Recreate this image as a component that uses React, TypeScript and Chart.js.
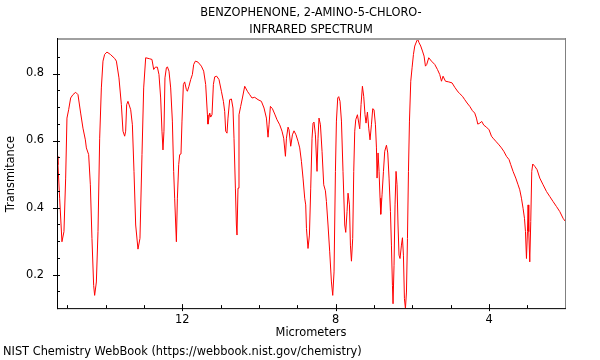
import React, { useEffect, useRef } from 'react';
import { Chart, registerables } from 'chart.js';

Chart.register(...registerables);

const FONT = '"DejaVu Sans", "Noto Sans", sans-serif';
const FS = 11.4;

const titleLines = ['BENZOPHENONE, 2-AMINO-5-CHLORO-', 'INFRARED SPECTRUM'];
const xAxisTitle = 'Micrometers';
const yAxisTitle = 'Transmitance';
const footerText = 'NIST Chemistry WebBook (https://webbook.nist.gov/chemistry)';

const xRange = [2.02, 15.27];
const yRange = [0.1, 0.9];
const xTicks = [12, 8, 4];
const xMinorTicks = [15, 14, 13, 11, 10, 9, 7, 6, 5, 3];
const yTicks = [0.2, 0.4, 0.6, 0.8];
const yMinorTicks = [0.15, 0.25, 0.3, 0.35, 0.45, 0.5, 0.55, 0.65, 0.7, 0.75, 0.85];

// wavelength in micrometers
const wavelength = [
  15.27, 15.245, 15.201, 15.141, 15.089, 15.044, 15.010, 14.966, 14.914, 14.854,
  14.783, 14.723, 14.653, 14.593, 14.530, 14.504, 14.444, 14.400, 14.358, 14.314,
  14.288, 14.243, 14.201, 14.157, 14.113, 14.071, 14.027, 13.967, 13.878, 13.766,
  13.721, 13.654, 13.591, 13.549, 13.505, 13.479, 13.453, 13.419, 13.348, 13.304,
  13.262, 13.218, 13.158, 13.106, 13.053, 13.009, 12.957, 12.853, 12.793, 12.748,
  12.704, 12.652, 12.610, 12.566, 12.532, 12.506, 12.480, 12.454, 12.417, 12.391,
  12.349, 12.305, 12.261, 12.227, 12.201, 12.156, 12.130, 12.096, 12.070, 12.036,
  12.010, 11.974, 11.940, 11.895, 11.869, 11.828, 11.783, 11.739, 11.705, 11.660,
  11.593, 11.504, 11.444, 11.392, 11.347, 11.332, 11.287, 11.261, 11.227, 11.191,
  11.157, 11.105, 11.045, 10.982, 10.930, 10.896, 10.870, 10.836, 10.810, 10.766,
  10.721, 10.680, 10.653, 10.617, 10.591, 10.575, 10.549, 10.523, 10.479, 10.434,
  10.374, 10.304, 10.244, 10.184, 10.113, 10.027, 9.939, 9.870, 9.808, 9.766,
  9.740, 9.704, 9.651, 9.591, 9.531, 9.461, 9.401, 9.357, 9.312, 9.286,
  9.244, 9.218, 9.174, 9.130, 9.088, 9.036, 8.984, 8.939, 8.895, 8.853,
  8.809, 8.783, 8.764, 8.723, 8.686, 8.652, 8.618, 8.592, 8.566, 8.530,
  8.488, 8.462, 8.436, 8.399, 8.357, 8.313, 8.269, 8.243, 8.201, 8.157,
  8.112, 8.078, 8.044, 8.008, 7.982, 7.948, 7.922, 7.888, 7.851, 7.810,
  7.765, 7.739, 7.705, 7.679, 7.642, 7.617, 7.590, 7.557, 7.530, 7.504,
  7.478, 7.434, 7.374, 7.340, 7.304, 7.270, 7.236, 7.210, 7.173, 7.139,
  7.105, 7.069, 7.035, 7.001, 6.964, 6.938, 6.922, 6.896, 6.870, 6.844,
  6.826, 6.792, 6.755, 6.722, 6.677, 6.643, 6.609, 6.573, 6.547, 6.521,
  6.505, 6.479, 6.453, 6.427, 6.401, 6.375, 6.349, 6.323, 6.286, 6.260,
  6.234, 6.208, 6.182, 6.155, 6.129, 6.103, 6.077, 6.043, 6.009, 5.973,
  5.939, 5.887, 5.861, 5.827, 5.783, 5.738, 5.696, 5.660, 5.626, 5.574,
  5.503, 5.417, 5.347, 5.287, 5.242, 5.201, 5.138, 5.052, 4.966, 4.896,
  4.809, 4.765, 4.694, 4.635, 4.574, 4.504, 4.434, 4.374, 4.330, 4.295,
  4.243, 4.191, 4.139, 4.069, 4.000, 3.938, 3.896, 3.826, 3.740, 3.677,
  3.617, 3.547, 3.479, 3.435, 3.375, 3.304, 3.244, 3.200, 3.156, 3.114,
  3.077, 3.051, 3.025, 2.999, 2.983, 2.965, 2.939, 2.913, 2.887, 2.861,
  2.808, 2.748, 2.678, 2.591, 2.503, 2.417, 2.331, 2.242, 2.156, 2.070,
  2.02,
];

const transmittance = [
  0.553, 0.528, 0.428, 0.298, 0.328, 0.488, 0.667, 0.692, 0.727, 0.737,
  0.744, 0.737, 0.682, 0.637, 0.602, 0.578, 0.558, 0.468, 0.308, 0.168,
  0.138, 0.178, 0.328, 0.607, 0.757, 0.837, 0.857, 0.864, 0.857, 0.845,
  0.837, 0.787, 0.707, 0.628, 0.613, 0.628, 0.707, 0.717, 0.692, 0.647,
  0.508, 0.348, 0.276, 0.308, 0.558, 0.757, 0.847, 0.844, 0.842, 0.812,
  0.819, 0.819, 0.797, 0.727, 0.628, 0.572, 0.628, 0.787, 0.817, 0.820,
  0.807, 0.757, 0.658, 0.508, 0.428, 0.298, 0.428, 0.528, 0.558, 0.560,
  0.658, 0.767, 0.775, 0.752, 0.747, 0.762, 0.782, 0.797, 0.827, 0.837,
  0.834, 0.822, 0.807, 0.767, 0.677, 0.649, 0.682, 0.670, 0.677, 0.767,
  0.790, 0.792, 0.782, 0.747, 0.717, 0.687, 0.628, 0.622, 0.667, 0.722,
  0.724, 0.697, 0.607, 0.458, 0.348, 0.318, 0.458, 0.677, 0.702, 0.727,
  0.762, 0.747, 0.737, 0.727, 0.729, 0.722, 0.717, 0.697, 0.667, 0.610,
  0.647, 0.702, 0.695, 0.679, 0.662, 0.647, 0.628, 0.607, 0.553, 0.607,
  0.640, 0.632, 0.583, 0.617, 0.629, 0.617, 0.598, 0.578, 0.538, 0.488,
  0.428, 0.408, 0.338, 0.278, 0.318, 0.458, 0.607, 0.652, 0.655, 0.617,
  0.508, 0.607, 0.667, 0.647, 0.568, 0.468, 0.450, 0.418, 0.348, 0.268,
  0.178, 0.138, 0.208, 0.508, 0.658, 0.727, 0.731, 0.717, 0.658, 0.508,
  0.348, 0.326, 0.388, 0.443, 0.408, 0.288, 0.240, 0.308, 0.508, 0.628,
  0.662, 0.677, 0.635, 0.707, 0.762, 0.732, 0.677, 0.652, 0.685, 0.637,
  0.602, 0.647, 0.695, 0.692, 0.647, 0.578, 0.488, 0.563, 0.508, 0.428,
  0.380, 0.438, 0.508, 0.568, 0.586, 0.563, 0.488, 0.388, 0.288, 0.168,
  0.113, 0.228, 0.408, 0.508, 0.468, 0.348, 0.258, 0.248, 0.288, 0.310,
  0.258, 0.128, 0.099, 0.148, 0.308, 0.508, 0.658, 0.777, 0.817, 0.857,
  0.882, 0.897, 0.902, 0.892, 0.882, 0.867, 0.852, 0.822, 0.827, 0.847,
  0.837, 0.827, 0.812, 0.797, 0.777, 0.792, 0.777, 0.775, 0.772, 0.759,
  0.745, 0.740, 0.732, 0.722, 0.712, 0.702, 0.689, 0.682, 0.667, 0.649,
  0.652, 0.657, 0.646, 0.640, 0.632, 0.613, 0.607, 0.598, 0.587, 0.578,
  0.568, 0.553, 0.543, 0.528, 0.508, 0.488, 0.468, 0.453, 0.428, 0.398,
  0.368, 0.328, 0.248, 0.328, 0.408, 0.328, 0.238, 0.358, 0.508, 0.530,
  0.523, 0.513, 0.488, 0.468, 0.448, 0.433, 0.418, 0.403, 0.388, 0.368,
  0.360,
];

const frameTicksPlugin = {
  id: 'frameTicks',
  afterDraw(chart: any) {
    const { ctx, chartArea: a, scales } = chart;
    const xs = scales.x;
    const ys = scales.y;
    ctx.save();
    ctx.strokeStyle = '#000';
    ctx.lineWidth = 1;
    ctx.beginPath();
    for (const v of yTicks) {
      const p = Math.round(ys.getPixelForValue(v)) + 0.5;
      ctx.moveTo(a.left - 4, p);
      ctx.lineTo(a.left + 3, p);
    }
    for (const v of yMinorTicks) {
      const p = Math.round(ys.getPixelForValue(v)) + 0.5;
      ctx.moveTo(a.left, p);
      ctx.lineTo(a.left + 3, p);
    }
    for (const v of xTicks) {
      const p = Math.round(xs.getPixelForValue(v)) + 0.5;
      ctx.moveTo(p, a.bottom + 3);
      ctx.lineTo(p, a.bottom - 4);
    }
    for (const v of xMinorTicks) {
      const p = Math.round(xs.getPixelForValue(v)) + 0.5;
      ctx.moveTo(p, a.bottom);
      ctx.lineTo(p, a.bottom - 3);
    }
    ctx.stroke();

    // frame: top gray thick, right gray, left & bottom black
    ctx.fillStyle = '#a0a0a0';
    ctx.fillRect(a.left, a.top - 2, a.right - a.left + 1, 2);
    ctx.fillStyle = '#808080';
    ctx.fillRect(a.right, a.top - 2, 1, a.bottom - a.top + 2);
    ctx.fillStyle = '#000';
    ctx.fillRect(a.left, a.top - 2, 1, a.bottom - a.top + 3);
    ctx.fillRect(a.left, a.bottom, a.right - a.left + 1, 1);
    ctx.restore();
  },
};

export default function App() {
  const ref = useRef<HTMLCanvasElement>(null);

  useEffect(() => {
    if (!ref.current) return;
    const points = wavelength.map((w, i) => ({ x: w, y: transmittance[i] }));
    const font = { family: FONT, size: FS, weight: 'normal' as const, lineHeight: 1.2 };
    const chart = new Chart(ref.current, {
      type: 'line',
      data: {
        datasets: [
          {
            data: points,
            borderColor: '#ff0000',
            borderWidth: 1,
            pointRadius: 0,
            tension: 0,
            fill: false,
          },
        ],
      },
      options: {
        animation: false,
        responsive: false,
        devicePixelRatio: 1,
        layout: { padding: { left: 3, right: 35, top: 0, bottom: 0 } },
        plugins: {
          legend: { display: false },
          tooltip: { enabled: false },
          title: {
            display: true,
            text: titleLines,
            fullSize: false,
            color: '#000',
            font: { family: FONT, size: FS, weight: 'normal', lineHeight: 17 / FS },
            padding: { top: 4.75, bottom: 1.25 },
          },
          subtitle: {
            display: true,
            text: footerText,
            position: 'bottom',
            align: 'start',
            fullSize: true,
            color: '#000',
            font,
            padding: { top: 0, bottom: 1 },
          },
        },
        scales: {
          x: {
            type: 'linear',
            reverse: true,
            min: xRange[0],
            max: xRange[1],
            grid: { display: false },
            border: { display: false },
            afterBuildTicks: (s: any) => {
              s.ticks = xTicks.map((v) => ({ value: v }));
            },
            afterFit: (s: any) => {
              s.height = 37.2;
            },
            ticks: {
              padding: -2.5,
              color: '#000',
              font,
              maxRotation: 0,
              autoSkip: false,
              callback: (v: any) => String(v),
            },
            title: {
              display: true,
              text: xAxisTitle,
              color: '#000',
              font,
              padding: { top: 0, bottom: 5.05 },
            },
          },
          y: {
            type: 'linear',
            min: yRange[0],
            max: yRange[1],
            grid: { display: false },
            border: { display: false },
            afterBuildTicks: (s: any) => {
              s.ticks = yTicks.map((v) => ({ value: v }));
            },
            afterFit: (s: any) => {
              s.width = 54;
            },
            ticks: {
              padding: 5,
              color: '#000',
              font,
              autoSkip: false,
              callback: (v: any) => Number(v).toFixed(1),
            },
            title: {
              display: true,
              text: yAxisTitle,
              color: '#000',
              font,
              padding: { top: 1, bottom: 0 },
            },
          },
        },
      },
      plugins: [frameTicksPlugin],
    });
    return () => chart.destroy();
  }, []);

  return (
    <div style={{ position: 'absolute', left: 0, top: 0, width: 600, height: 360, background: '#fff' }}>
      <canvas ref={ref} width={600} height={360} style={{ display: 'block', width: 600, height: 360 }} />
    </div>
  );
}
